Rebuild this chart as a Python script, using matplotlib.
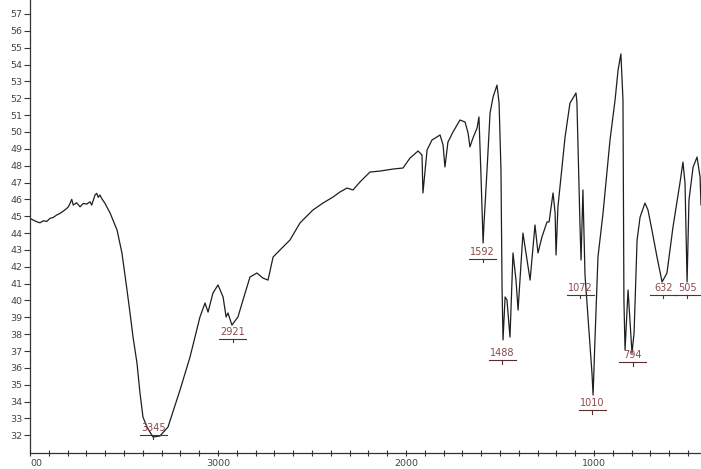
"""
IR spectrum redraw (transmittance vs wavenumber)
"""

import matplotlib
matplotlib.use('Agg')
import matplotlib.pyplot as plt
from matplotlib.ticker import MultipleLocator


# wavenumber (cm-1) and transmittance (%)
wavenumber = [
    4000, 3982, 3964, 3947, 3929, 3911, 3894, 3876, 3858, 3840,
    3823, 3805, 3796, 3787, 3778, 3770, 3752, 3734, 3716, 3698,
    3681, 3672, 3663, 3654, 3645, 3637, 3628, 3619, 3601,
    3574, 3537, 3511, 3484, 3468, 3452, 3431, 3415, 3399, 3378,
    3346, 3309, 3266, 3202, 3149, 3096, 3069, 3053, 3027, 3000,
    2973, 2957, 2947, 2926, 2894, 2867, 2830, 2793, 2761, 2734,
    2707, 2670, 2617, 2564, 2495, 2442, 2388, 2351, 2314, 2282,
    2245, 2192, 2138, 2069, 2016, 1979, 1936, 1915, 1910, 1888,
    1862, 1819, 1803, 1793, 1777, 1750, 1713, 1686, 1670, 1660,
    1644, 1622, 1612, 1601, 1590, 1585, 1569, 1553, 1537, 1516,
    1505, 1495, 1489, 1484, 1473, 1463, 1447, 1431, 1415, 1404,
    1378, 1340, 1314, 1298, 1277, 1250, 1239, 1218, 1207, 1202,
    1192, 1170, 1154, 1128, 1112, 1096, 1091, 1075, 1069, 1059,
    1048, 1032, 1021, 1011, 1005, 995, 979, 952, 915, 888,
    872, 857, 846, 841, 835, 819, 798, 787, 771, 755,
    729, 713, 692, 665, 638, 612, 580, 543, 527, 516,
    505, 495, 473, 452, 436, 431,
]
transmittance = [
    44.87, 44.77, 44.67, 44.61, 44.73, 44.69, 44.87, 44.93, 45.07, 45.17,
    45.30, 45.46, 45.56, 45.76, 46.00, 45.66, 45.80, 45.56, 45.76, 45.72,
    45.86, 45.66, 45.96, 46.26, 46.36, 46.12, 46.26, 46.06, 45.76,
    45.19, 44.18, 42.82, 40.62, 39.26, 37.83, 36.29, 34.51, 33.08, 32.49,
    31.90, 31.96, 32.49, 34.69, 36.64, 39.02, 39.85, 39.31, 40.44, 40.92,
    40.21, 39.02, 39.26, 38.54, 39.02, 40.03, 41.39, 41.63, 41.33, 41.21,
    42.58, 43.00, 43.59, 44.60, 45.37, 45.78, 46.14, 46.44, 46.67, 46.56,
    47.03, 47.62, 47.68, 47.80, 47.86, 48.45, 48.87, 48.63, 46.38, 48.93,
    49.52, 49.82, 49.23, 47.92, 49.40, 50.00, 50.71, 50.59, 49.94, 49.11,
    49.64, 50.24, 50.89, 47.33, 43.41, 44.60, 47.77, 51.12, 52.07, 52.78,
    51.71, 47.77, 40.62, 37.66, 40.21, 40.03, 37.83, 42.82, 41.21, 39.43,
    44.00, 41.21, 44.48, 42.82, 43.77, 44.66, 44.66, 46.38, 45.19, 42.70,
    45.55, 47.92, 49.70, 51.71, 52.01, 52.31, 51.77, 44.60, 42.40, 46.56,
    41.51, 39.02, 37.24, 35.70, 34.39, 37.66, 42.58, 45.19, 49.52, 51.90,
    53.68, 54.63, 51.90, 40.03, 37.06, 40.62, 36.88, 38.07, 43.59, 44.95,
    45.78, 45.37, 44.18, 42.58, 41.10, 41.63, 44.36, 46.97, 48.21, 46.97,
    41.10, 45.96, 47.92, 48.51, 47.33, 45.67,
]

# peak picks: label, and the transmittance where the label text sits
peak_labels = ['3345', '2921', '1592', '1488', '1072', '1010', '794', '632', '505']
peak_label_T = [32.43, 38.13, 42.88, 36.88, 40.74, 33.91, 36.76, 40.74, 40.74]

y_ticks = list(range(32, 58))
x_major = [4000, 3000, 2000, 1000]
# the leading "40" of 4000 is cropped off in the original
x_major_labels = ['00', '3000', '2000', '1000']


def main():
    fig = plt.figure(figsize=(7.01, 4.69), dpi=100)
    ax = fig.add_axes([30 / 701, 16 / 469, 671 / 701, 453 / 469])

    ax.plot(wavenumber, transmittance, color='#1e1e1e', lw=0.9)

    ax.set_xlim(4000, 431)
    ax.set_ylim(30.95, 57.83)

    # peak annotations: number, underline and a small tick under it
    for lab, ty in zip(peak_labels, peak_label_T):
        wn = float(lab)
        ax.text(wn, ty, lab, ha='center', va='center', fontsize=7,
                color='#8c4a4a')
        uy = ty - 0.42
        ax.plot([wn + 72, wn - 72], [uy, uy], color='#5a2c2c', lw=0.8)
        ax.plot([wn, wn], [uy, uy - 0.2], color='#5a2c2c', lw=0.8)

    for side in ('top', 'right'):
        ax.spines[side].set_visible(False)
    for side in ('left', 'bottom'):
        ax.spines[side].set_color('#333333')
        ax.spines[side].set_linewidth(0.9)

    ax.set_yticks(y_ticks)
    ax.set_yticklabels([str(v) for v in y_ticks])
    ax.set_xticks(x_major)
    ax.set_xticklabels(x_major_labels)
    ax.get_xticklabels()[0].set_horizontalalignment('left')
    ax.xaxis.set_minor_locator(MultipleLocator(100))

    ax.tick_params(axis='y', direction='out', length=4.5, width=0.8,
                   color='#333333', labelsize=6.8, labelcolor='#444444', pad=1)
    ax.tick_params(axis='x', which='both', direction='inout', length=4.5,
                   width=0.8, color='#333333', labelsize=6.8,
                   labelcolor='#444444', pad=2)

    fig.savefig('out.png', dpi=100)


if __name__ == '__main__':
    main()
